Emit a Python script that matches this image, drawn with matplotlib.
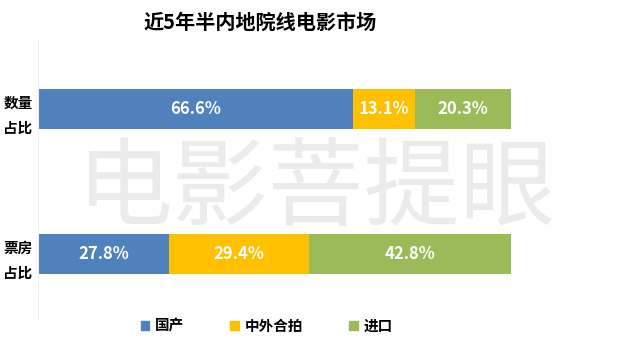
import matplotlib
matplotlib.use("Agg")
import matplotlib.pyplot as plt
from matplotlib.patches import Patch

plt.rcParams['font.family'] = ['Noto Sans CJK SC', 'DejaVu Sans']

# data
categories = ["票房\n占比", "数量\n占比"]
series_names = ["国产", "中外合拍", "进口"]
domestic = [27.8, 66.6]
coprod = [29.4, 13.1]
imported = [42.8, 20.3]
colors = ["#4F81BD", "#FFC000", "#9BBB59"]

fig = plt.figure(figsize=(6.4, 3.52), dpi=100)

# watermark
fig.text(317/640, 1-190/352, "电影菩提眼", fontsize=69, color='#ebebeb',
         ha='center', va='center', fontweight='light', zorder=0)

ax = fig.add_axes([38/640, 1-320/352, (511-38)/640, (320-40)/352])
ax.patch.set_alpha(0)

ypos = [0, 1]
left = [0, 0]
for vals, col in zip([domestic, coprod, imported], colors):
    bars = ax.barh(ypos, vals, left=left, height=0.28, color=col)
    for b, v in zip(bars, vals):
        ax.text(b.get_x()+b.get_width()/2, b.get_y()+b.get_height()/2, f"{v:.1f}%",
                ha='center', va='center', color='white', fontsize=12, fontweight='bold')
    left = [l+v for l, v in zip(left, vals)]

ax.set_xlim(0, 100)
ax.set_ylim(-0.455, 1.476)
ax.set_yticks(ypos)
ax.set_yticklabels(categories, fontsize=10.5, fontweight='bold', linespacing=1.7)
ax.tick_params(axis='y', length=0, pad=4)
ax.set_xticks([])
for s in ['top', 'right', 'bottom']:
    ax.spines[s].set_visible(False)
ax.spines['left'].set_color('#eeeeee')

fig.text(260/640, 1-22/352, "近5年半内地院线电影市场", ha='center', va='center',
         fontsize=14.5, fontweight='bold')

handles = [Patch(color=c) for c in colors]
fig.legend(handles, series_names, loc='center', bbox_to_anchor=(267/640, 1-326/352),
           ncol=3, frameon=False, handlelength=0.6, handleheight=0.6,
           handletextpad=0.4, columnspacing=3.15,
           prop={'weight': 'bold', 'size': 10.5})

fig.savefig("out.png", dpi=100)
